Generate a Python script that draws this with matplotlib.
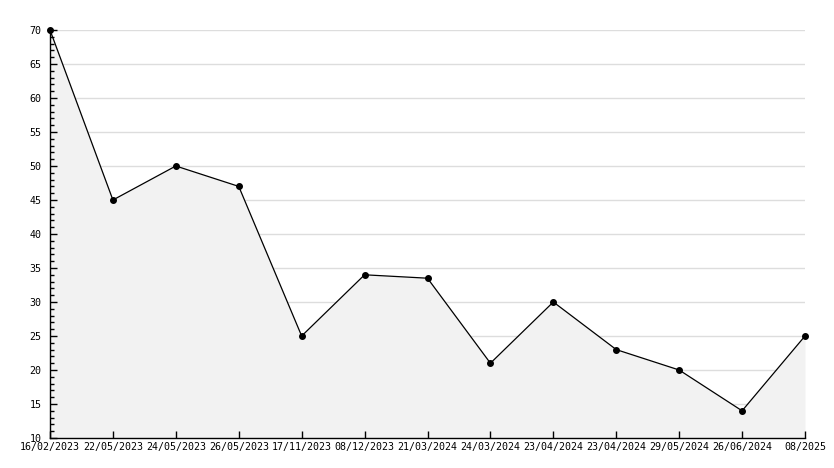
import matplotlib
matplotlib.use("Agg")
import matplotlib.pyplot as plt
from matplotlib.ticker import MultipleLocator

labels = ["16/02/2023", "22/05/2023", "24/05/2023", "26/05/2023", "17/11/2023",
          "08/12/2023", "21/03/2024", "24/03/2024", "23/04/2024", "23/04/2024",
          "29/05/2024", "26/06/2024", "08/2025"]
values = [70, 45, 50, 47, 25, 34, 33.5, 21, 30, 23, 20, 14, 25]

fig = plt.figure(figsize=(8.34, 4.68), dpi=100)
ax = fig.add_axes([50/834, 30/468, 755/834, 408/468])
x = list(range(len(values)))

ax.fill_between(x, values, 10, color="#f2f2f2", zorder=1, linewidth=0)
ax.plot(x, values, color="black", linewidth=0.9, marker="o", markersize=4,
        zorder=3, clip_on=False)

ax.set_xlim(0, len(values) - 1)
ax.set_ylim(10, 70)
ax.yaxis.set_major_locator(MultipleLocator(5))
ax.yaxis.set_minor_locator(MultipleLocator(1))
ax.set_xticks(x)
ax.set_xticklabels(labels)

for yv in range(15, 71, 5):
    ax.axhline(yv, color="#dddddd", linewidth=1, zorder=0.5)

for s in ["top", "right"]:
    ax.spines[s].set_visible(False)
for s in ["left", "bottom"]:
    ax.spines[s].set_color("black")
    ax.spines[s].set_linewidth(1)
    ax.spines[s].set_zorder(4)

font = {"family": "DejaVu Sans Mono", "size": 7.2}
for lab in ax.get_xticklabels() + ax.get_yticklabels():
    lab.set_fontfamily("DejaVu Sans Mono")
    lab.set_fontsize(7.2)

ax.tick_params(axis="both", which="major", direction="in", length=5, width=1, color="black", pad=3)
ax.tick_params(axis="y", which="minor", direction="in", length=3, width=1, color="black")
ax.tick_params(axis="y", which="major", pad=6)
ax.set_facecolor("white")

fig.savefig("out.png", dpi=100)
